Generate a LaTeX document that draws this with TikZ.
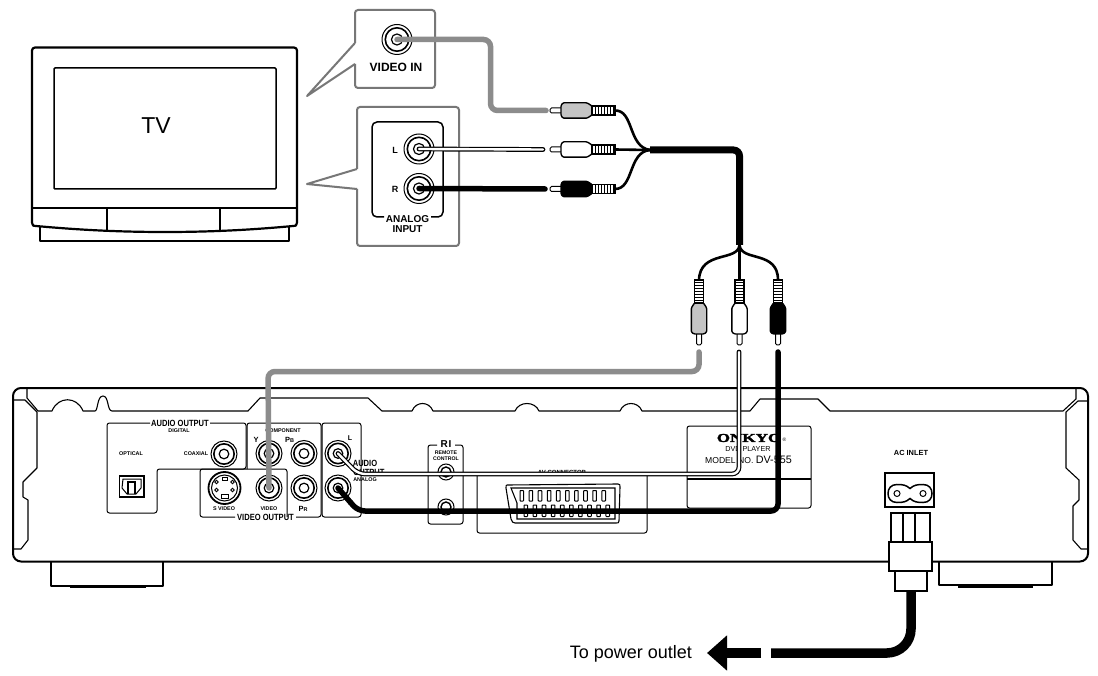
\documentclass[tikz,border=0pt]{standalone}
\usepackage{fontspec}
\setmainfont{Liberation Sans}
\newfontfamily\serifface{Liberation Serif}[BoldFeatures={FakeBold=2}]
\usetikzlibrary{arrows.meta,calc}
\definecolor{balloon}{HTML}{777777}
\definecolor{cablegray}{HTML}{8C8C8C}
\definecolor{plugfill}{HTML}{C4C4C4}
\newcommand{\fs}[1]{\fontsize{#1}{#1}\selectfont}
\newcommand{\narrowtxt}[1]{\scalebox{.84}[1]{\fs{9}\bfseries #1}}
\tikzset{
  outline/.style={draw=black,line width=2pt,line join=round},
  thinline/.style={draw=black,line width=1.1pt,line join=round},
  balloonline/.style={draw=balloon,line width=2pt,line join=round,rounded corners=3pt},
  panelline/.style={draw=black,line width=1pt,rounded corners=2.5pt,line join=round},
  lab/.style={inner sep=0pt,outer sep=0pt,align=center,text=black},
  tiny lab/.style={lab,font=\fs{5.4}\bfseries},
  jackring/.style={circle,draw=black,line width=1pt,inner sep=0pt,fill=white},
  graycable/.style={draw=cablegray,line width=5.5pt,line cap=round,rounded corners=7pt},
  blackcable/.style={draw=black,line width=5.5pt,line cap=round,rounded corners=7pt},
  whitecable/.style={draw=black,line width=1.2pt,double=white,double distance=2.4pt,line cap=round,rounded corners=7pt},
  wire/.style={draw=black,line width=2.6pt},
  trunk/.style={draw=black,line width=7pt,rounded corners=6pt},
  cord/.style={draw=black,line width=9.5pt},
  boxnode/.style={draw=black,line width=2pt,inner sep=0pt,fill=white,rectangle},
}
% name, x, y, outer radius
\newcommand{\jackat}[4]{%
  \node[jackring,minimum size=#4*2pt] (#1) at (#2,#3) {};
  \draw[line width=1.6pt] (#1.center) circle[radius=#4*0.78];
  \draw[line width=1.2pt] (#1.center) circle[radius=#4*0.37];
}
% name, x, y, rotation, fill
\newcommand{\plugat}[5]{%
  \begin{scope}[shift={(#2,#3)},rotate=#4]
    \coordinate (#1-tip) at (0,0);
    \coordinate (#1-end) at (65,0);
    \draw[line width=1pt,fill=white,rounded corners=1.5pt] (12,-2.5) -- (0,-2.5) -- (0,2.5) -- (12,2.5);
    \draw[line width=1.4pt,fill=#5,rounded corners=1pt,line join=round]
      (11,-5) -- (13,-7.7) -- (37,-7.7) -- (42,-4.5) -- (42,4.5) -- (37,7.7) -- (13,7.7) -- (11,5) -- cycle;
    \draw[line width=1.1pt,fill=white] (42,-4.5) rectangle (65,4.5);
    \foreach \d in {45,48,...,63} \draw[line width=.75pt] (\d,-4.5) -- (\d,4.5);
  \end{scope}
}
\begin{document}
\begin{tikzpicture}[x=1pt,y=-1pt]
\useasboundingbox[fill=white] (0,0) rectangle (1098,676);

% ---- TV
\draw[outline,line width=2.2pt,rounded corners=3pt] (32,223) -- (32,47.5) -- (297,47.5) -- (297,223);
\draw[outline,line width=2.2pt] (32,223) .. controls (32,226) and (34,226) .. (36,226)
  .. controls (80,230) and (120,232) .. (165,232) .. controls (210,232) and (250,230) .. (293,226)
  .. controls (295,226) and (297,226) .. (297,223);
\draw[thinline,line width=1.5pt] (40,227) -- (40,241) -- (289,241) -- (289,227);
\draw[thinline,line width=1.5pt,rounded corners=1pt] (54,68) rectangle (276,189);
\draw[thinline,line width=1.5pt] (32,208) -- (297,208);
\draw[thinline,line width=1.5pt] (107,208) -- (107,230.5) (220,208) -- (220,230.5);
\node[lab,font=\fs{23}] (tvlabel) at (156,126) {TV};

% ---- balloons
\draw[balloonline] (355,43) -- (355,10) -- (435,10) -- (435,88) -- (355,88) -- (355,64);
\draw[draw=balloon,line width=2pt,line join=round] (355,43) -- (307,96) -- (355,64);
\draw[balloonline] (357,169) -- (357,107) -- (459,107) -- (459,246) -- (357,246) -- (357,189);
\draw[draw=balloon,line width=2pt,line join=round] (357,169) -- (307,184) -- (357,189);
\draw[thinline,line width=1.5pt,rounded corners=5pt] (384,217) -- (372,217) -- (372,122) -- (443,122) -- (443,217) -- (431,217);
\node[lab,font=\fs{12}\bfseries] (vin) at (396,67) {VIDEO IN};
\node[lab,font=\fs{10}\bfseries] (ana) at (407.5,219.5) {ANALOG};
\node[lab,font=\fs{10}\bfseries] (inp) at (407.5,229.5) {INPUT};
\node[lab,font=\fs{9}\bfseries] (tvL) at (395,150) {L};
\node[lab,font=\fs{9}\bfseries] (tvR) at (395,189.5) {R};
\jackat{jVI}{397}{39.5}{15}
\jackat{jTVL}{419}{149}{15}
\jackat{jTVR}{419}{188.5}{15}

% ---- player body
\draw[outline,rounded corners=8pt] (13,388) rectangle (1088,561.5);
\draw[thinline] (27,388) -- (27,398) -- (38,411) -- (52,411)
  .. controls (58,396) and (77,396) .. (83,411) -- (95,411)
  .. controls (98,411) and (97,396) .. (103,396) .. controls (109,396) and (107,411) .. (112,411)
  -- (248,411) -- (260,398) -- (368,398) -- (382,411) -- (412,411)
  .. controls (416,401) and (429,401) .. (433,411) -- (515,411)
  .. controls (519,401) and (535,401) .. (539,411) -- (620,411)
  .. controls (624,401) and (638,401) .. (642,411) -- (750,411)
  -- (760,399) -- (818,399) -- (830,411) -- (1063,411) -- (1076,399) -- (1076,388);
\draw[thinline] (13,400) -- (25,400) -- (37,412) -- (37,468) -- (23,482) -- (23,497) -- (28,500) -- (28,540) -- (21,549) -- (13,549);
\draw[thinline] (1088,401) -- (1078,401) -- (1066,412) -- (1066,468) -- (1079,480) -- (1079,500) -- (1073,506) -- (1073,540) -- (1081,549) -- (1088,549);
% feet
\draw[thinline,line width=1.6pt] (51,562) -- (51,586) -- (163,586) -- (163,562);
\draw[line width=2.5pt] (70,587) -- (146,587);
\draw[thinline,line width=1.6pt] (939,562) -- (939,585) -- (1052,585) -- (1052,562);
\draw[line width=2.5pt] (958,586.5) -- (1033,586.5);

% ---- rear panels
\draw[panelline] (150,423) -- (107,423) -- (107,513) -- (157,513) -- (157,469) -- (246,469) -- (246,423) -- (210,423);
\draw[panelline] (247,469) -- (247,423) -- (321,423) -- (321,517) -- (296,517);
\draw[panelline] (235,517) -- (200,517) -- (200,469) -- (287,469) -- (287,517);
\draw[panelline] (322,423) rectangle (361,517);
\draw[panelline] (437,445) -- (428,445) -- (428,524) -- (463,524) -- (463,445) -- (455,445);
\draw[panelline] (477,472) -- (477,533) -- (647,533) -- (647,472);
\draw[panelline] (687,508) -- (687,426) -- (811,426) -- (811,508) -- cycle;
\draw[line width=1.3pt] (687,479) -- (811,479);

\node[lab] (t1) at (180,423.5) {\narrowtxt{AUDIO OUTPUT}};
\node[tiny lab] (t2) at (179,431) {DIGITAL};
\node[tiny lab] (t3) at (131,454) {OPTICAL};
\node[tiny lab] (t4) at (196,454) {COAXIAL};
\node[tiny lab] (t5) at (283,431) {COMPONENT};
\node[lab,font=\fs{7.5}\bfseries] (t6) at (256,439.5) {Y};
\node[lab,font=\fs{7.5}\bfseries] (t7) at (289.5,439.5) {P\fs{5.5}B};
\node[lab,font=\fs{7}\bfseries] (t8) at (350,438) {L};
\node[lab] (t9) at (365,463) {\narrowtxt{AUDIO}};
\node[lab] (t10) at (369,472) {\narrowtxt{OUTPUT}};
\node[tiny lab] (t11) at (365,480) {ANALOG};
\node[lab,font=\fs{7}\bfseries] (t12) at (351,503) {R};
\node[tiny lab] (t13) at (224,509) {S VIDEO};
\node[tiny lab] (t14) at (269,509) {VIDEO};
\node[lab,font=\fs{7.5}\bfseries] (t15) at (303,509) {P\fs{5.5}R};
\node[lab] (t16) at (265.5,517) {\narrowtxt{VIDEO OUTPUT}};
\node[lab,font=\fs{10}\bfseries] (t17) at (446,444.5) {R\hspace{1pt}I};
\node[tiny lab,font=\fs{5.2}\bfseries] (t18) at (446,453) {REMOTE};
\node[tiny lab,font=\fs{5.2}\bfseries] (t19) at (446,458.5) {CONTROL};
\node[tiny lab,font=\fs{6}\bfseries] (t20) at (562,472.5) {AV CONNECTOR};
\node[lab] (t21) at (749,438) {\scalebox{1.42}[1]{\serifface\fs{12}\bfseries ONKYO}};
\node[lab,font=\fs{5}] (t22) at (784.5,439.5) {®};
\node[lab,font=\fs{7.2}] (t23) at (748,449) {DVD PLAYER};
\node[lab,font=\fs{8.6}] (t24) at (748.5,459.5) {MODEL NO. \fs{10.8}DV-555};
\node[tiny lab,font=\fs{7.4}\bfseries] (t25) at (911,453) {AC INLET};

% jacks of the player
\jackat{jCOAX}{224}{454}{13}
\jackat{jY}{269}{453.5}{13}
\jackat{jPB}{304}{453.5}{13}
\jackat{jAL}{338}{453.5}{13}
\jackat{jVID}{269}{488}{13}
\jackat{jPR}{304}{488}{13}
\jackat{jAR}{338}{488}{13}
\node[jackring,minimum size=16pt] (jRC1) at (446,472) {};
\draw[line width=1.4pt] (jRC1.center) circle[radius=5];
\node[jackring,minimum size=16pt] (jRC2) at (446,507) {};
\draw[line width=1.4pt] (jRC2.center) circle[radius=5];

% S-video
\node[circle,draw=black,line width=1.8pt,minimum size=32pt,inner sep=0pt] (jSV) at (224.5,488) {};
\draw[line width=1pt] (jSV.center) circle[radius=13];
\foreach \dx/\dy in {-8/-6,8/-6,-8/2,8/2}
  \draw[line width=.8pt,fill=white] ($(jSV.center)+(\dx,\dy)$) circle[radius=1.7];
\draw[line width=.9pt,fill=white] (221,494) rectangle (228,498);
\draw[line width=.9pt] (222,477) rectangle (227,480);

% optical
\draw[line width=1.8pt] (119.5,476) rectangle (144,497);
\draw[line width=1pt,line join=round] (123,479) -- (141,479) -- (141,488) -- (136,494) -- (127,494) -- (122,488) -- cycle;
\draw[line width=1.2pt] (128,494) -- (128,482) -- (135,482) -- (135,494);

% scart
\draw[thinline] (507,485) -- (618,484) .. controls (620,484) and (620,485) .. (620,487) -- (619,521) .. controls (619,523) and (618,523) .. (616,523)
  -- (515,523) .. controls (513,523) and (512,522) .. (511,519) -- (506,488) .. controls (506,486) and (506,485) .. (507,485);
\draw[thinline,line join=miter] (511,488) -- (615,488) -- (615,519) -- (517,519) -- (517,503) -- cycle;
\foreach \k in {0,...,9} {
  \draw[line width=1pt,fill=white,rounded corners=.6pt] (520+\k*9.1,490.5) rectangle +(3.6,10.5);
  \draw[line width=1pt,fill=white,rounded corners=.6pt] (524+\k*9.1,505) rectangle +(3.6,11.5);
}

% AC inlet
\node[boxnode,line width=1.6pt,minimum width=49pt,minimum height=34pt] (inlet) at (909.5,490) {};
\draw[line width=1.5pt] (910,488.5) .. controls (906,485) and (903,484.5) .. (897,484.5)
  .. controls (891,484.5) and (888,488.5) .. (888,493.5) .. controls (888,498.5) and (891,502.5) .. (897,502.5)
  .. controls (903,502.5) and (906,502) .. (910,498.5) .. controls (914,502) and (917,502.5) .. (923,502.5)
  .. controls (929,502.5) and (932,498.5) .. (932,493.5) .. controls (932,488.5) and (929,484.5) .. (923,484.5)
  .. controls (917,484.5) and (914,485) .. (910,488.5) -- cycle;
\draw[line width=1pt] (897,493.5) circle[radius=3] (923,493.5) circle[radius=3];
\node[boxnode,minimum width=39pt,minimum height=29pt] (acA) at (910.5,527.5) {};
\draw[line width=1.8pt] (903,513) -- (903,542) (915,513) -- (915,542);
\node[boxnode,line width=2.2pt,minimum width=32pt,minimum height=20pt] (acC) at (911,581) {};
\node[boxnode,line width=2.2pt,minimum width=43pt,minimum height=29pt] (acB) at (910.5,556.5) {};
\coordinate (cordEnd) at (771,653);
\coordinate (arrowStart) at (761,653);
\coordinate (arrowTip) at (707,653);
\draw[cord,rounded corners=24pt] (acC.south) -- (acC.south |- cordEnd) -- (cordEnd);
\draw[cord,-{Triangle[length=20pt,width=34pt]}] (arrowStart) -- (arrowTip);
\node[lab,anchor=east,font=\fs{18}] (power) at (692,654) {To power outlet};

% ---- cable set
\plugat{pA}{550}{110.5}{0}{plugfill}
\plugat{pB}{550}{149.5}{0}{white}
\plugat{pC}{550}{189}{0}{black}
\plugat{pD}{699}{345}{90}{plugfill}
\plugat{pE}{739.5}{345}{90}{white}
\plugat{pF}{778}{345}{90}{black}
\coordinate (trunkL) at (650,150);
\coordinate (trunkB) at (739.5,245);
\draw[wire] (pA-end) .. controls (634,110) and (628,147) .. (trunkL);
\draw[wire] (pB-end) -- (trunkL);
\draw[wire] (pC-end) .. controls (634,189) and (628,152) .. (trunkL);
\draw[trunk] (trunkL) -- (trunkL -| trunkB) -- (trunkB);
\draw[wire] (trunkB) .. controls (738,262) and (700,250) .. (pD-end);
\draw[wire] (trunkB) -- (pE-end);
\draw[wire] (trunkB) .. controls (741,262) and (778,250) .. (pF-end);

% ---- free ends of the cables, by the plugs
\coordinate (cA) at (546,110.5);
\coordinate (cB) at (543,149.5);
\coordinate (cC) at (545,189);
\coordinate (cD) at (699,352);
\coordinate (cE) at (739,352);
\coordinate (cF) at (778,352);
\draw[graycable] (jVI.center) -- (490.5,39.5) -- (490.5,110.5) -- (cA);
\draw[whitecable] (jTVL.center) -- (cB);
\draw[blackcable] (jTVR.center) -- (cC);
\draw[graycable] (cD) -- (699,371.5) -- (268,371.5) -- (jVID.center);
\draw[whitecable] (cE) -- (739,474) -- (358,474) -- (jAL.center);
\draw[blackcable] (cF) -- (778,511) -- (358,511) -- (jAR.center);
\end{tikzpicture}
\end{document}
